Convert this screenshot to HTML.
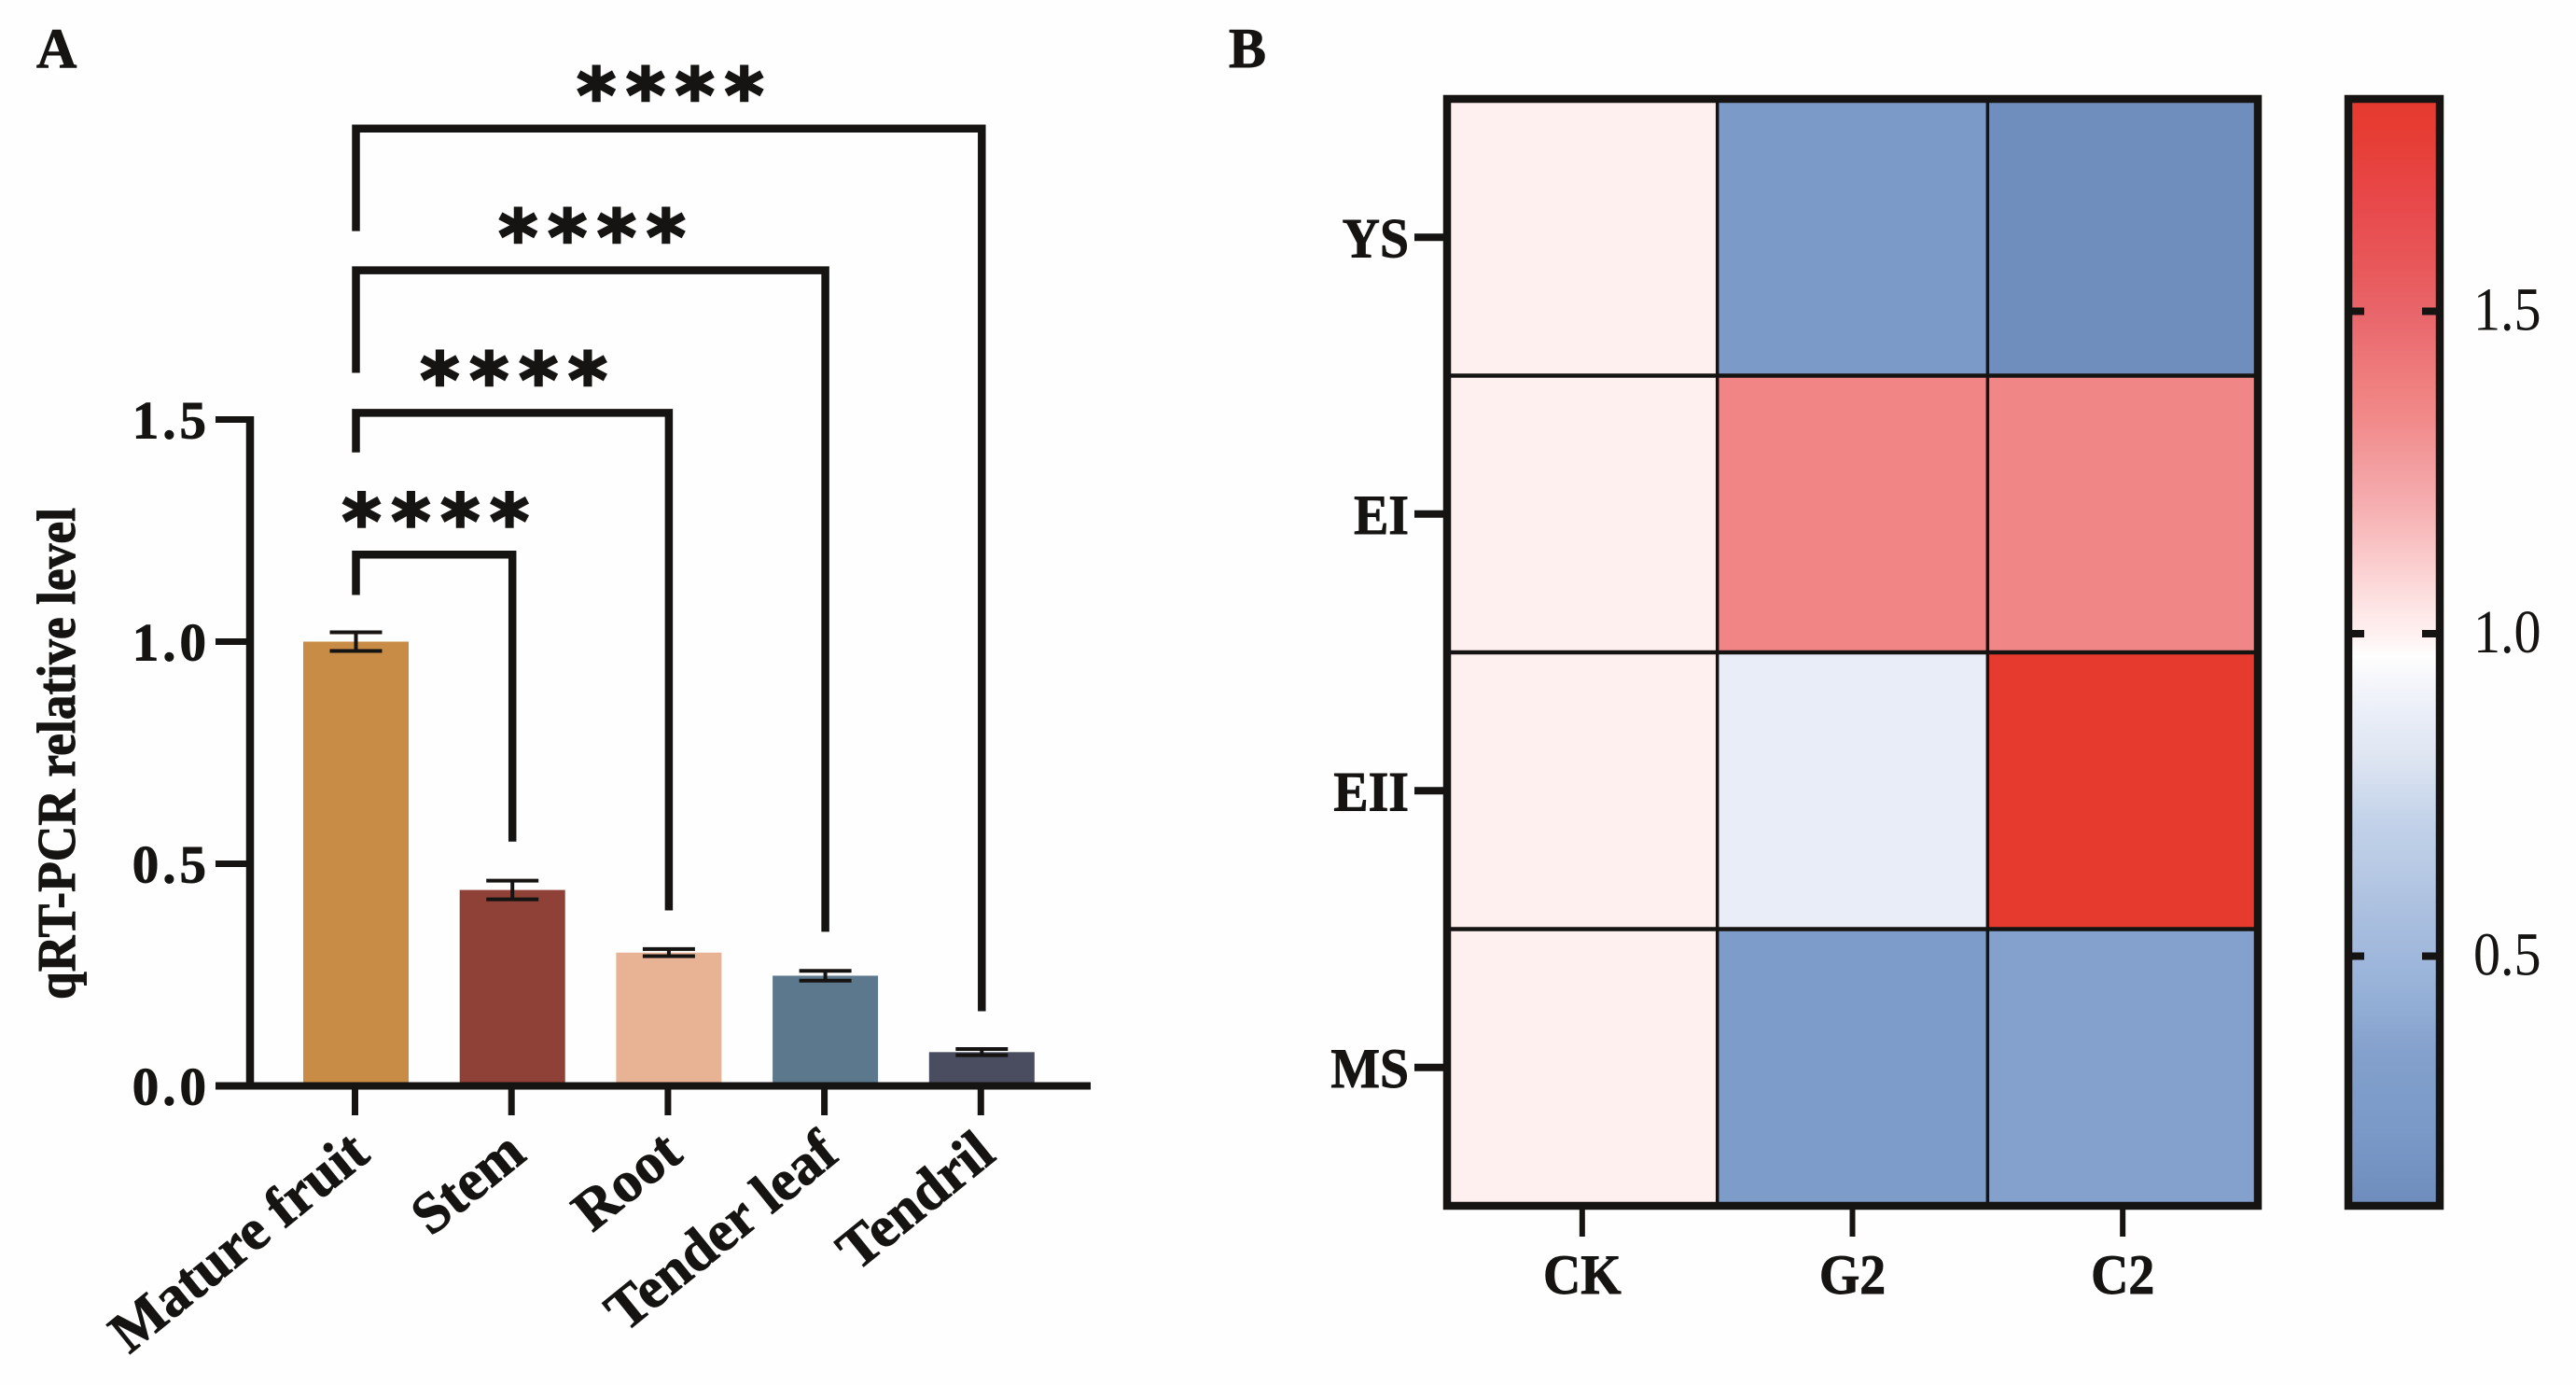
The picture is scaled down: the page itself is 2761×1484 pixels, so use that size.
<!DOCTYPE html>
<html lang="en">
<head>
<meta charset="utf-8">
<title>qRT-PCR relative level and heatmap</title>
<style>
html,body{margin:0;padding:0;background:#fefefe;width:2761px;height:1484px;overflow:hidden}
svg{display:block}
text{font-family:"Liberation Serif","Times New Roman",serif;fill:#151412}
text[font-weight="700"]{stroke:#151412;stroke-width:.9px}
</style>
</head>
<body>
<svg id="figure" xmlns="http://www.w3.org/2000/svg" width="2761" height="1484" viewBox="0 0 2761 1484">
  <defs id="defs"></defs>
  <rect width="2761" height="1484" fill="#fefefe"></rect>
  <text x="39" y="72" font-size="60" font-weight="700">A</text>
  <text x="1317" y="72" font-size="60" font-weight="700">B</text>
  <text transform="translate(80,1071) rotate(-90) scale(1,1.08)" font-size="53.5" font-weight="700">qRT-PCR relative level</text>
  <g id="panelA"></g>
  <g id="panelB"></g>
  <g id="panelC"></g>
</svg>
<script>
// Panel A data
const tissues = ['Mature fruit', 'Stem', 'Root', 'Tender leaf', 'Tendril'];
const expression = [1.0, 0.441, 0.30, 0.248, 0.076];
const expressionError = [0.021, 0.021, 0.008, 0.011, 0.007];
const barColors = ['#c98c47', '#8f4037', '#e8b295', '#5c788c', '#4a4c60'];
const yTickValues = [0, 0.5, 1, 1.5];
const yTickLabels = ['0.0', '0.5', '1.0', '1.5'];
const bracketTargets = [1, 2, 3, 4];
const bracketLevels = [1.196, 1.515, 1.836, 2.155];
const bracketLeftEnds = [1.105, 1.426, 1.605, 1.924];
const bracketRightEnds = [0.55, 0.395, 0.347, 0.168];
const bracketLabels = ['****', '****', '****', '****'];

// Panel B data
const conditions = ['CK', 'G2', 'C2'];
const regions = ['YS', 'EI', 'EII', 'MS'];
const heatValues = [
  [1.0, 0.237, 0.124],
  [1.0, 1.36, 1.35],
  [1.0, 0.868, 1.83],
  [1.0, 0.27, 0.35]
];
const scaleTickValues = [0.5, 1, 1.5];
const scaleTickLabels = ['0.5', '1.0', '1.5'];
const scaleStopValues = [1.83, 1.787, 1.673, 1.558, 1.5, 1.387, 1.33, 1.274, 1.216, 1.158, 1.10, 1.043, 1.0, 0.965, 0.925, 0.868, 0.811, 0.754, 0.696, 0.639, 0.58, 0.5, 0.41, 0.35, 0.295, 0.237, 0.18, 0.124, 0.112];
const scaleStopColors = ['#e63a2f', '#e63c32', '#e8484a', '#e85a5c', '#e8656a', '#f07f7f', '#f28a8a', '#f29a9c', '#f5a9ab', '#f8bcbd', '#fbd0d1', '#fde4e4', '#fff0f0', '#fefefe', '#f5f6fb', '#e8edf7', '#dfe6f2', '#cfdbee', '#c0d0e8', '#b8cae5', '#adc1e0', '#a0b8dc', '#90acd4', '#84a0cc', '#7f9dca', '#7c9ac8', '#7594c3', '#708ebd', '#6f8dbd'];

const INK = '#151412';
const SVGNS = 'http://www.w3.org/2000/svg';
const defs = document.getElementById('defs');
const panelA = document.getElementById('panelA');
const panelB = document.getElementById('panelB');
const panelC = document.getElementById('panelC');

function mk(parent, tag, attrs, content) {
  const node = document.createElementNS(SVGNS, tag);
  for (const key in attrs) node.setAttribute(key, attrs[key]);
  if (content !== undefined) node.textContent = content;
  parent.appendChild(node);
  return node;
}

// Axis functions
const yA = v => 1163.5 - 476 * v;
const xA = i => 381.5 + 167.7 * i;
const barWidth = 113;
const xB = i => 1551 + 289.67 * i;
const yB = i => 106 + 296.5 * i;
const yC = v => 679 - (v - 1) * 691;
const scaleMax = scaleStopValues[0];
const scaleMin = scaleStopValues[scaleStopValues.length - 1];

function hexRgb(hex) {
  return [1, 3, 5].map(k => parseInt(hex.slice(k, k + 2), 16));
}
function colorOf(v) {
  for (let k = 0; k < scaleStopValues.length - 1; k++) {
    const a = scaleStopValues[k], b = scaleStopValues[k + 1];
    if (v <= a && v >= b) {
      const t = (a - v) / (a - b);
      const ca = hexRgb(scaleStopColors[k]), cb = hexRgb(scaleStopColors[k + 1]);
      return 'rgb(' + ca.map((c, j) => Math.round(c + (cb[j] - c) * t)).join(',') + ')';
    }
  }
  return v > scaleMax ? scaleStopColors[0] : scaleStopColors[scaleStopColors.length - 1];
}

// Bars and error bars
tissues.forEach((name, i) => {
  const cx = xA(i);
  const bar = mk(panelA, 'rect', {x: cx - barWidth / 2, y: yA(expression[i]), width: barWidth, height: yA(0) - yA(expression[i]), fill: barColors[i]});
  
  
  const hi = yA(expression[i] + expressionError[i]);
  const lo = yA(expression[i] - expressionError[i]);
  const err = mk(panelA, 'path', {d: 'M' + (cx - 28) + ' ' + hi + 'H' + (cx + 28) + 'M' + (cx - 28) + ' ' + lo + 'H' + (cx + 28) + 'M' + cx + ' ' + hi + 'V' + lo, fill: 'none', stroke: INK, 'stroke-width': 4});
  
  
  const tick = mk(panelA, 'line', {x1: cx - 1, x2: cx - 1, y1: 1166, y2: 1195, stroke: INK, 'stroke-width': 7});
  
  
  const label = mk(panelA, 'text', {transform: 'translate(' + (cx + 17) + ',1241) rotate(-39)', 'text-anchor': 'end', 'font-size': 62, 'font-weight': 700}, name);
  
  
});

// Y axis
const yAxisLine = mk(panelA, 'line', {x1: 268, x2: 268, y1: yA(1.5) - 3.5, y2: yA(0), stroke: INK, 'stroke-width': 8.5});


const xAxisLine = mk(panelA, 'line', {x1: 231, x2: 1169, y1: yA(0), y2: yA(0), stroke: INK, 'stroke-width': 8});


yTickValues.forEach((v, i) => {
  const tick = mk(panelA, 'line', {x1: 231, x2: 268, y1: yA(v), y2: yA(v), stroke: INK, 'stroke-width': 7});
  
  
  const label = mk(panelA, 'text', {x: 225, y: yA(v) + 20, 'text-anchor': 'end', 'font-size': 57, 'font-weight': 700, 'letter-spacing': 4}, yTickLabels[i]);
  
  
});

// Significance brackets
bracketTargets.forEach((target, i) => {
  const x0 = xA(0), x1 = xA(target), top = yA(bracketLevels[i]);
  const br = mk(panelA, 'path', {d: 'M' + x0 + ' ' + yA(bracketLeftEnds[i]) + 'V' + top + 'H' + x1 + 'V' + yA(bracketRightEnds[i]), fill: 'none', stroke: INK, 'stroke-width': 8.5, 'stroke-linejoin': 'miter'});
  
  
  const stars = mk(panelA, 'text', {x: (x0 + x1) / 2 + 7, y: top - 7, 'text-anchor': 'middle', 'font-size': 80, 'font-weight': 700, 'letter-spacing': 11, stroke: INK, style: 'font-family:"DejaVu Sans",sans-serif;stroke-width:2.5px'}, bracketLabels[i]);
  
  
});

// Heatmap cells
regions.forEach((region, r) => {
  conditions.forEach((cond, c) => {
    const cell = mk(panelB, 'rect', {x: xB(c), y: yB(r), width: xB(c + 1) - xB(c), height: yB(r + 1) - yB(r), fill: colorOf(heatValues[r][c])});
    
    
  });
});
for (let c = 1; c < conditions.length; c++) {
  const line = mk(panelB, 'line', {x1: xB(c), x2: xB(c), y1: yB(0), y2: yB(regions.length), stroke: INK, 'stroke-width': 3.5});
  
  
}
for (let r = 1; r < regions.length; r++) {
  const line = mk(panelB, 'line', {x1: xB(0), x2: xB(conditions.length), y1: yB(r), y2: yB(r), stroke: INK, 'stroke-width': 4.5});
  
  
}
const frame = mk(panelB, 'rect', {x: xB(0), y: yB(0), width: xB(conditions.length) - xB(0), height: yB(regions.length) - yB(0), fill: 'none', stroke: INK, 'stroke-width': 8.5});


regions.forEach((region, r) => {
  const cy = (yB(r) + yB(r + 1)) / 2;
  const tick = mk(panelB, 'line', {x1: 1516, x2: 1548, y1: cy, y2: cy, stroke: INK, 'stroke-width': 8});
  
  
  const label = mk(panelB, 'text', {transform: 'translate(1510,' + (cy + 21) + ') scale(.93,1)', 'text-anchor': 'end', 'font-size': 60, 'font-weight': 700}, region);
  
  
});
conditions.forEach((cond, c) => {
  const cx = (xB(c) + xB(c + 1)) / 2;
  const tick = mk(panelB, 'line', {x1: cx, x2: cx, y1: 1295, y2: 1325, stroke: INK, 'stroke-width': 6});
  
  
  const label = mk(panelB, 'text', {transform: 'translate(' + cx + ',1386) scale(.93,1)', 'text-anchor': 'middle', 'font-size': 60, 'font-weight': 700}, cond);
  
  
});

// Color scale
const grad = mk(defs, 'linearGradient', {id: 'scaleGradient', x1: 0, y1: 0, x2: 0, y2: 1});
scaleStopValues.forEach((v, k) => {
  mk(grad, 'stop', {offset: (scaleMax - v) / (scaleMax - scaleMin), 'stop-color': scaleStopColors[k]});
});
const scaleRect = mk(panelC, 'rect', {x: 2517, y: yB(0), width: 98, height: yB(regions.length) - yB(0), fill: 'url(#scaleGradient)', stroke: INK, 'stroke-width': 8.5});


scaleTickValues.forEach((v, i) => {
  const left = mk(panelC, 'line', {x1: 2520, x2: 2534, y1: yC(v), y2: yC(v), stroke: INK, 'stroke-width': 8});
  
  
  const right = mk(panelC, 'line', {x1: 2596, x2: 2612, y1: yC(v), y2: yC(v), stroke: INK, 'stroke-width': 8});
  
  
  const label = mk(panelC, 'text', {transform: 'translate(2651,' + (yC(v) + 20) + ') scale(.88,1)', 'font-size': 66}, scaleTickLabels[i]);
  
  
});
</script>
</body>
</html>
